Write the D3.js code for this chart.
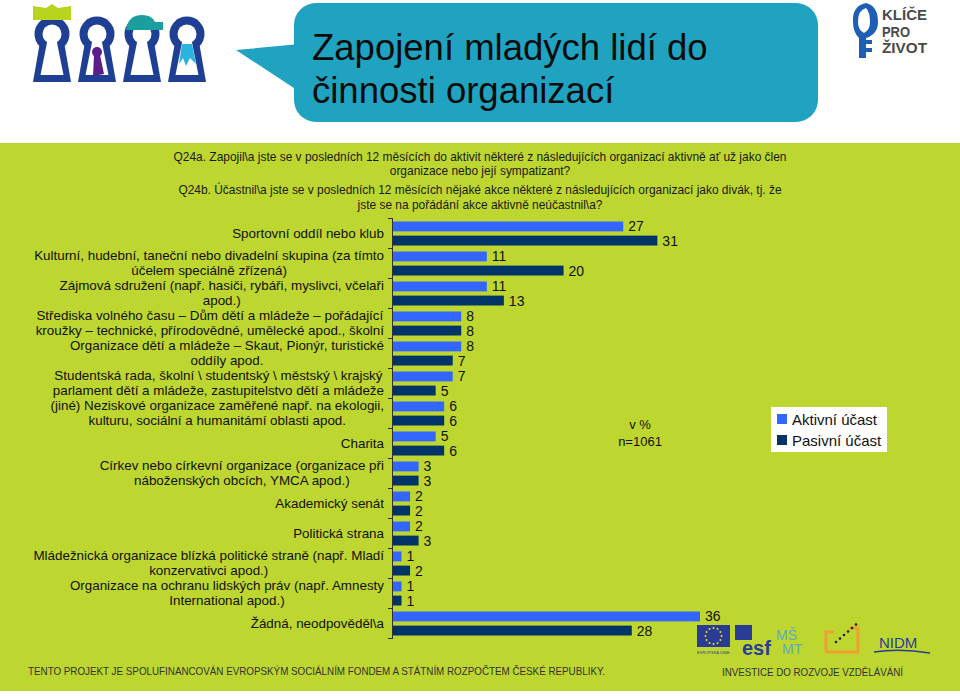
<!DOCTYPE html>
<html><head><meta charset="utf-8">
<script src="https://cdn.jsdelivr.net/npm/d3@7"></script>
<style>
html,body{margin:0;padding:0;background:#fff;}
svg{display:block;font-family:"Liberation Sans",Arial,sans-serif;}
</style></head>
<body>
<svg id="chart" width="960" height="696"></svg>
<script>
// ---------------- DATA ----------------
const categoryLines = [
  ["Sportovní oddíl nebo klub"],
  ["Kulturní, hudební, taneční nebo divadelní skupina (za tímto", "účelem speciálně zřízená)"],
  ["Zájmová sdružení (např. hasiči, rybáři, myslivci, včelaři", "apod.)"],
  ["Střediska volného času – Dům dětí a mládeže – pořádající", "kroužky – technické, přírodovědné, umělecké apod., školní"],
  ["Organizace dětí a mládeže – Skaut, Pionýr, turistické", "oddíly apod."],
  ["Studentská rada, školní \\ studentský \\ městský \\ krajský", "parlament dětí a mládeže, zastupitelstvo dětí a mládeže"],
  ["(jiné) Neziskové organizace zaměřené např. na ekologii,", "kulturu, sociální a humanitámí oblasti apod."],
  ["Charita"],
  ["Církev nebo církevní organizace (organizace při", "náboženských obcích, YMCA apod.)"],
  ["Akademický senát"],
  ["Politická strana"],
  ["Mládežnická organizace blízká politické straně (např. Mladí", "konzervativci apod.)"],
  ["Organizace na ochranu lidských práv (např. Amnesty", "International apod.)"],
  ["Žádná, neodpověděl\\a"]
];
const categories = categoryLines.map(l => l.join(" "));
const activeValues  = [27, 11, 11, 8, 8, 7, 6, 5, 3, 2, 2, 1, 1, 36];
const passiveValues = [31, 20, 13, 8, 7, 5, 6, 6, 3, 2, 3, 2, 1, 28];
const seriesNames = ["Aktivní účast", "Pasivní účast"];
const seriesColors = ["#3366ff", "#003366"];
const titleLines = ["Zapojení mladých lidí do", "činnosti organizací"];
const questionLines = [
  "Q24a. Zapojil\\a jste se v posledních 12 měsících do aktivit některé z následujících organizací aktivně ať už jako člen",
  "organizace nebo její sympatizant?",
  "Q24b. Účastnil\\a jste se v posledních 12 měsících nějaké akce některé z následujících organizací jako divák, tj. že",
  "jste se na pořádání akce aktivně neúčastnil\\a?"
];
const noteLines = ["v %", "n=1061"];
const footerLeft = "TENTO PROJEKT JE SPOLUFINANCOVÁN EVROPSKÝM SOCIÁLNÍM FONDEM A STÁTNÍM ROZPOČTEM ČESKÉ REPUBLIKY.";
const footerRight = "INVESTICE DO ROZVOJE VZDĚLÁVÁNÍ";
const logoLines = ["KLÍČE", "PRO", "ŽIVOT"];

// ---------------- SETUP ----------------
const svg = d3.select("#chart");
const GREEN = "#bed630";
svg.append("rect").attr("x",0).attr("y",0).attr("width",960).attr("height",696).attr("fill","#fff");
svg.append("rect").attr("x",0).attr("y",143).attr("width",960).attr("height",548).attr("fill",GREEN);

// ---------------- HEADER ----------------
const bub = svg.append("g");
bub.append("path").attr("d","M236,50 L300,44 L300,92 Z").attr("fill","#1fa3c1");
bub.append("rect").attr("x",294).attr("y",3).attr("width",524).attr("height",119).attr("rx",22).attr("fill","#1fa3c1");
bub.selectAll("text.title").data(titleLines).join("text")
  .attr("x",312).attr("y",(d,i)=>60+i*42.5)
  .attr("font-size",36.5).attr("fill","#0b0b0b").text(d=>d);

// keyhole logos
const khX = [52, 97, 142, 187];
const kh = svg.append("g");
khX.forEach(cx => {
  kh.append("circle").attr("cx",cx).attr("cy",34).attr("r",17.5).attr("fill","#1f3f94");
  kh.append("path").attr("d",`M${cx-12},42 L${cx+12},42 L${cx+19},82 L${cx-19},82 Z`).attr("fill","#1f3f94");
  kh.append("circle").attr("cx",cx).attr("cy",34).attr("r",9.5).attr("fill","#fff");
  kh.append("path").attr("d",`M${cx-4.5},40 L${cx+4.5},40 L${cx+11.5},75 L${cx-11.5},75 Z`).attr("fill","#fff");
});
kh.append("path").attr("d","M33,6 L46,8 L52,4 L58,8 L71,6 L71,20 L33,20 Z").attr("fill","#b8d41c");
kh.append("circle").attr("cx",97).attr("cy",52).attr("r",5).attr("fill","#5b1d8c");
kh.append("path").attr("d","M94,55 L100,55 L104,74 L93,76 Z").attr("fill","#5b1d8c");
kh.append("path").attr("d","M126,30 Q128,15 142,15 Q152,15 155,22 L163,22 L163,30 Z").attr("fill","#1a9e9e");
kh.append("path").attr("d","M182,44 L192,44 L196,64 L190,58 L186,66 L183,58 L179,64 Z").attr("fill","#2ab3dc");

// right logo
const rl = svg.append("g");
rl.append("path").attr("d","M866,3 Q852,6 853,22 Q853,32 859,38 L859,58 L866,58 L866,52 L872,52 L872,48 L866,48 L866,44 L872,44 L872,40 L866,40 L866,38 Q878,34 878,22 Q878,6 866,3 Z").attr("fill","#1e5fb4");
rl.append("path").attr("d","M866,8 Q858,10 858,22 Q858,30 864,33 Q870,30 870,22 Q870,12 866,8 Z").attr("fill","#fff");
rl.selectAll("text").data(logoLines).join("text")
  .attr("x",882).attr("y",(d,i)=>20+i*16.5).attr("font-size",14).attr("font-weight","bold").attr("fill","#4a4a4a")
  .attr("textLength",(d,i)=>[45,28,45][i]).attr("lengthAdjust","spacingAndGlyphs").text(d=>d);

// ---------------- QUESTION ----------------
const qg = svg.append("g");
const qText = qg.selectAll("text").data(questionLines).join("text")
  .attr("x",0).attr("y",(d,i)=>[161,175.5,194,209][i])
  .attr("text-anchor","middle").attr("font-size",13).attr("fill","#1a1a1a")
  .style("font-family","'Liberation Sans Narrow','Arial Narrow','Liberation Sans',Arial,sans-serif")
  .text(d=>d);
const natW = qText.nodes()[0].getComputedTextLength();
const kq = 614 / natW;
qg.attr("transform",`translate(480,0) scale(${kq},1)`);

// ---------------- CHART ----------------
const y = d3.scaleBand().domain(categories).range([218, 638]).paddingInner(0).paddingOuter(0);
const ySub = d3.scaleBand().domain([0,1]).range([3.5, 27.5]).paddingInner(0.3);
const x = d3.scaleLinear().domain([0, 36]).range([393, 700]);

const rows = categories.map((c,i)=>({cat:c, lines:categoryLines[i], vals:[activeValues[i], passiveValues[i]]}));

const bars = svg.append("g");
rows.forEach(r => {
  r.vals.forEach((v,s) => {
    bars.append("rect")
      .attr("x", x(0)).attr("y", y(r.cat)+ySub(s))
      .attr("width", x(v)-x(0)).attr("height", ySub.bandwidth())
      .attr("fill", seriesColors[s]);
    bars.append("text")
      .attr("x", x(v)+5).attr("y", y(r.cat)+ySub(s)+ySub.bandwidth()/2)
      .attr("dy","0.36em").attr("font-size",14).attr("fill","#111").text(v);
  });
});

const ax = svg.append("g").attr("stroke","#333").attr("stroke-width",1);
ax.append("line").attr("x1",x(0)-0.5).attr("x2",x(0)-0.5).attr("y1",y.range()[0]).attr("y2",y.range()[1]);
const bounds = categories.map(c=>y(c)).concat([y.range()[1]]);
ax.selectAll("line.t").data(bounds).join("line").attr("class","t")
  .attr("x1",x(0)-5).attr("x2",x(0)).attr("y1",d=>d+0.5).attr("y2",d=>d+0.5);

// category labels
const lab = svg.append("g");
const LH = 14.5, RIGHT = 384;
rows.forEach(r => {
  const cy = y(r.cat) + y.bandwidth()/2;
  const n = r.lines.length;
  const ts = r.lines.map((ln,i) => lab.append("text")
    .attr("y", cy - (n-1)/2*LH + i*LH).attr("dy","0.35em")
    .attr("font-size",13.4).attr("fill","#111").attr("text-anchor","middle").text(ln));
  const maxW = d3.max(ts, t => t.node().getComputedTextLength());
  ts.forEach(t => t.attr("x", RIGHT - maxW/2));
});

// note
svg.selectAll("text.note").data(noteLines).join("text").attr("class","note")
  .attr("x",640).attr("y",(d,i)=>429+i*17).attr("text-anchor","middle")
  .attr("font-size",13).attr("fill","#111").text(d=>d);

// legend
const lg = svg.append("g");
lg.append("rect").attr("x",771).attr("y",407).attr("width",116).attr("height",45).attr("fill","#fff");
seriesNames.forEach((s,i)=>{
  lg.append("rect").attr("x",777).attr("y",414+i*21).attr("width",10).attr("height",10).attr("fill",seriesColors[i]);
  lg.append("text").attr("x",792).attr("y",425+i*21).attr("font-size",15).attr("fill","#111").text(s);
});

// ---------------- FOOTER ----------------
svg.append("text").attr("x",28).attr("y",675).attr("font-size",11).attr("fill","#333")
  .attr("textLength",577).attr("lengthAdjust","spacingAndGlyphs").text(footerLeft);
svg.append("text").attr("x",722).attr("y",676).attr("font-size",11).attr("fill","#333")
  .attr("textLength",181).attr("lengthAdjust","spacingAndGlyphs").text(footerRight);

// bottom logos
const bl = svg.append("g");
bl.append("rect").attr("x",697).attr("y",625).attr("width",33).attr("height",22).attr("fill","#2a3d96");
d3.range(12).forEach(k=>{
  const a = k/12*2*Math.PI;
  bl.append("circle").attr("cx",713.5+8*Math.cos(a)).attr("cy",636+8*Math.sin(a)).attr("r",1).attr("fill","#ffd200");
});
bl.append("text").attr("x",697).attr("y",654).attr("font-size",4).attr("fill","#2a3d96").text("EVROPSKÁ UNIE");
bl.append("rect").attr("x",735).attr("y",625).attr("width",17).attr("height",15).attr("fill","#2a3d96");
bl.append("text").attr("x",742).attr("y",655).attr("font-size",20).attr("font-weight","bold").attr("fill","#2a3d96").text("esf");
bl.append("text").attr("x",776).attr("y",640).attr("font-size",14).attr("fill","#5fa8c8").text("MŠ");
bl.append("text").attr("x",782).attr("y",654).attr("font-size",14).attr("fill","#5fa8c8").text("MT");
bl.append("path").attr("d","M826,652 L826,632 L834,632 M850,628 L858,628 L858,652 L826,652").attr("fill","none").attr("stroke","#f0a030").attr("stroke-width",3);
d3.range(6).forEach(k=>bl.append("circle").attr("cx",836+k*4).attr("cy",642-k*3.5).attr("r",1.3).attr("fill","#222"));
bl.append("text").attr("x",879).attr("y",648).attr("font-size",15).attr("fill","#2a3d96").text("NIDM");
bl.append("path").attr("d","M874,652 Q900,648 930,653").attr("fill","none").attr("stroke","#2a3d96").attr("stroke-width",1.5);
</script>
</body></html>
